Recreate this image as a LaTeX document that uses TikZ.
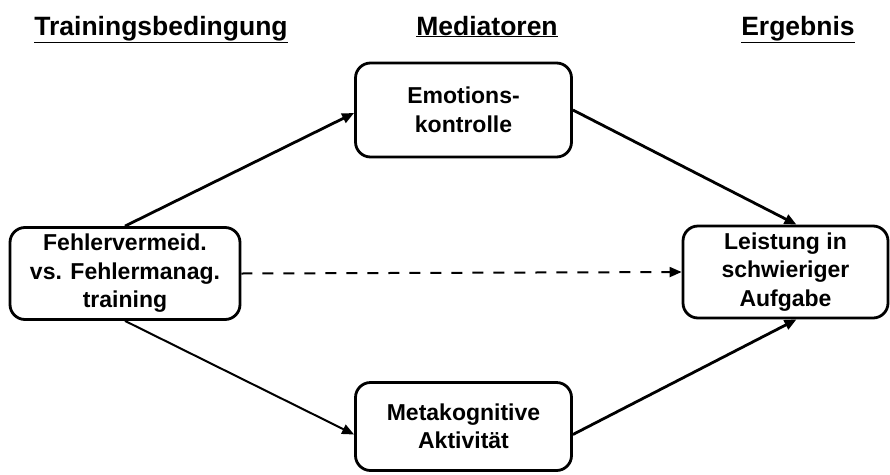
\documentclass[tikz,border=0pt]{standalone}
\usepackage{fontspec}
\setmainfont{Liberation Sans}
\usetikzlibrary{arrows.meta}

\tikzset{
  box/.style={draw, line width=2.8pt, rounded corners=15pt, align=center,
    font=\fontsize{23}{28.5}\selectfont\bfseries, inner sep=0pt},
  heading/.style={font=\fontsize{26.5}{30}\selectfont\bfseries, anchor=base},
  link/.style={-{Triangle[length=12pt,width=10pt]}, line width=2pt},
  strong/.style={link, line width=2.8pt},
}

\begin{document}
\begin{tikzpicture}[x=1pt,y=-1pt]
  \useasboundingbox (0,0) rectangle (890,474);

  % column headings
  \node[heading] (hTrain) at (161,35) {\underline{Trainingsbedingung}};
  \node[heading] (hMed)   at (487,35) {\underline{Mediatoren}};
  \node[heading] (hErg)   at (798,35) {\underline{Ergebnis}};

  % boxes
  \node[box, minimum width=230pt, minimum height=92pt] (train) at (125,273.5)
    {Fehlervermeid.\\vs. Fehlermanag.\\training};
  \node[box, minimum width=216pt, minimum height=94pt] (emo) at (463.5,110)
    {Emotions-\\kontrolle};
  \node[box, minimum width=216pt, minimum height=88pt] (meta) at (463.5,426.5)
    {Metakognitive\\Aktivität};
  \node[box, minimum width=205pt, minimum height=92pt] (res) at (785.5,272)
    {Leistung in\\schwieriger\\Aufgabe};

  % connectors
  \draw[strong] (train.north) -- ([yshift=-3pt]emo.west);
  \draw[strong] (emo.east) -- ([xshift=11pt]res.north);
  \draw[link] (train.south) -- ([yshift=-8pt]meta.west);
  \draw[strong] ([yshift=-8pt]meta.east) -- ([xshift=11pt]res.south);
  \draw[link, dash pattern=on 11pt off 10pt] (train.east) -- (res.west);
\end{tikzpicture}
\end{document}
